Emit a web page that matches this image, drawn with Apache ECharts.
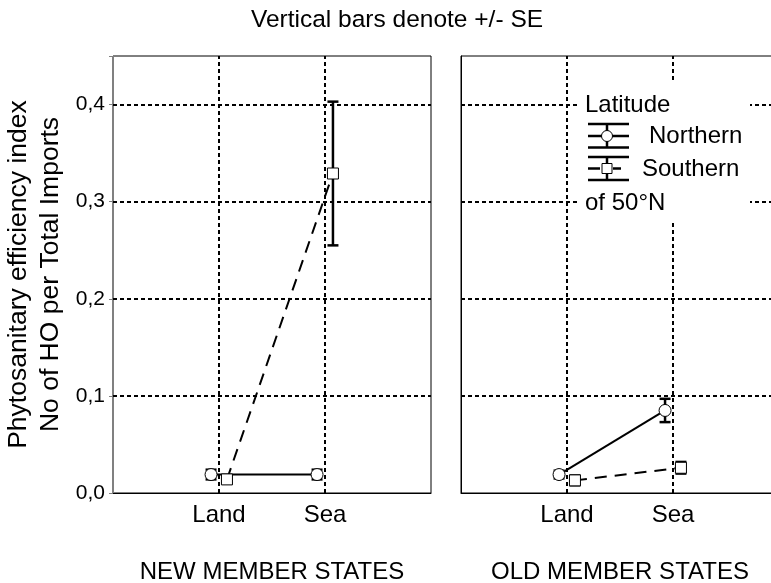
<!DOCTYPE html>
<html>
<head>
<meta charset="utf-8">
<script src="https://cdn.jsdelivr.net/npm/echarts@6/dist/echarts.min.js"></script>
<style>html,body{margin:0;padding:0;background:#fff}#c{width:771px;height:583px}</style>
</head>
<body>
<div id="c"></div>
<script>
// ---- data ----
const categories = ['Land', 'Sea'];
const panelNames = ['NEW MEMBER STATES', 'OLD MEMBER STATES'];
const groupNames = ['Northern', 'Southern'];
const yTicks = [0, 0.1, 0.2, 0.3, 0.4];

const newNorthern = [0.019, 0.019];
const newNorthernSE = [0.005, 0.005];
const newSouthern = [0.014, 0.329];
const newSouthernSE = [0.004, 0.074];

const oldNorthern = [0.019, 0.085];
const oldNorthernSE = [0.004, 0.012];
const oldSouthern = [0.013, 0.026];
const oldSouthernSE = [0.005, 0.006];

const titleText = 'Vertical bars denote +/- SE';
const yName = 'Phytosanitary efficiency index\nNo of HO per Total Imports';
const legendTitle = 'Latitude';
const legendFoot = 'of 50°N';

// ---- chart ----
const FONT = 'Liberation Sans, Arial, sans-serif';
const DODGE = 0.075;
const chart = echarts.init(document.getElementById('c'), null, {renderer: 'canvas'});

const panels = [
  {n: newNorthern, nse: newNorthernSE, s: newSouthern, sse: newSouthernSE},
  {n: oldNorthern, nse: oldNorthernSE, s: oldSouthern, sse: oldSouthernSE}
];

const gridLine = {color: '#000', width: 2, type: [4, 3]};

function errItem(params, api) {
  const x = api.value(0), lo = api.value(1), hi = api.value(2);
  const a = api.coord([x, lo]), b = api.coord([x, hi]);
  const cap = 5.5;
  const st = {stroke: '#000', lineWidth: 2.5};
  return {type: 'group', children: [
    {type: 'line', shape: {x1: a[0], y1: a[1], x2: b[0], y2: b[1]}, style: st},
    {type: 'line', shape: {x1: a[0] - cap, y1: a[1], x2: a[0] + cap, y2: a[1]}, style: st},
    {type: 'line', shape: {x1: b[0] - cap, y1: b[1], x2: b[0] + cap, y2: b[1]}, style: st}
  ]};
}

const grids = [
  {left: 113, top: 56, width: 318, height: 437, show: true, borderColor: '#000', borderWidth: 1,
   backgroundColor: 'transparent', containLabel: false, outerBoundsMode: 'none'},
  {left: 461, top: 56, width: 318, height: 437, show: true, borderColor: '#000', borderWidth: 1,
   backgroundColor: 'transparent', containLabel: false, outerBoundsMode: 'none'}
];

const xAxes = panelNames.map((nm, k) => ({
  type: 'value', gridIndex: k, min: 0, max: 3, interval: 1,
  name: nm, nameLocation: 'middle', nameGap: 67,
  nameTextStyle: {fontFamily: FONT, fontSize: 24, color: '#000'},
  axisLine: {lineStyle: {color: '#000', width: 1}},
  axisTick: {show: false},
  splitLine: {show: false},
  axisLabel: {
    margin: 10, fontFamily: FONT, fontSize: 24, color: '#000',
    formatter: v => categories[Math.round(v) - 1] && Math.abs(v - Math.round(v)) < 1e-6 ? categories[Math.round(v) - 1] : ''
  }
}));

const yAxes = [0, 1].map(k => ({
  type: 'value', gridIndex: k, min: 0, max: 0.45, interval: 0.1,
  name: k === 0 ? yName : '', nameLocation: 'middle', nameGap: 46, nameRotate: 90,
  nameTextStyle: {fontFamily: FONT, fontSize: 26.5, color: '#000', lineHeight: 32},
  axisLine: {show: true, lineStyle: {color: k === 0 ? '#808080' : '#000', width: 1}},
  axisTick: {show: k === 0, length: 4, lineStyle: {color: '#808080'}},
  splitLine: {show: false},
  axisLabel: {
    show: k === 0, margin: 8, fontFamily: FONT, fontSize: 21, color: '#000',
    formatter: v => yTicks.some(t => Math.abs(t - v) < 1e-9) ? v.toFixed(1).replace('.', ',') : ''
  }
}));

const series = [];
panels.forEach((p, k) => {
  series.push({
    type: 'scatter', xAxisIndex: k, yAxisIndex: k, data: [], z: 0, silent: true,
    markLine: {
      silent: true, symbol: 'none', animation: false, label: {show: false},
      lineStyle: gridLine,
      data: categories.map((c, i) => ({xAxis: i + 1}))
        .concat(yTicks.filter(t => t > 0).map(t => ({yAxis: t})))
    }
  });
  const groups = [
    {vals: p.n, se: p.nse, d: -DODGE, sym: 'circle', size: 12, dash: 'solid', name: groupNames[0]},
    {vals: p.s, se: p.sse, d: DODGE, sym: 'rect', size: 11, dash: [12, 8], name: groupNames[1]}
  ];
  groups.forEach(g => {
    series.push({
      type: 'custom', xAxisIndex: k, yAxisIndex: k, z: 3, silent: true,
      renderItem: errItem, encode: {x: 0, y: [1, 2]},
      data: categories.map((c, i) => [i + 1 + g.d, g.vals[i] - g.se[i], g.vals[i] + g.se[i]])
    });
    series.push({
      type: 'line', name: g.name, xAxisIndex: k, yAxisIndex: k, z: 4,
      data: categories.map((c, i) => [i + 1 + g.d, g.vals[i]]),
      symbol: g.sym, symbolSize: g.size, showSymbol: true,
      lineStyle: {color: '#000', width: 2, type: g.dash},
      itemStyle: {color: '#fff', borderColor: '#000', borderWidth: 1},
      animation: false
    });
  });
});

// legend drawn inside right panel
const Z = 100;
const st = {stroke: '#000', lineWidth: 2.5};
const LF = '24px ' + FONT;
const legendElements = [
  {type: 'rect', z: Z, shape: {x: 577, y: 83, width: 173, height: 139}, style: {fill: '#fff'}},
  {type: 'text', z: Z + 1, style: {text: legendTitle, x: 585, y: 105, font: LF, fill: '#000', textVerticalAlign: 'middle'}},
  {type: 'line', z: Z + 1, shape: {x1: 588, y1: 124, x2: 629, y2: 124}, style: st},
  {type: 'line', z: Z + 1, shape: {x1: 588, y1: 136, x2: 629, y2: 136}, style: st},
  {type: 'line', z: Z + 1, shape: {x1: 588, y1: 147.5, x2: 629, y2: 147.5}, style: st},
  {type: 'line', z: Z + 1, shape: {x1: 607, y1: 124, x2: 607, y2: 147.5}, style: st},
  {type: 'circle', z: Z + 2, shape: {cx: 607, cy: 136, r: 5.5}, style: {fill: '#fff', stroke: '#000', lineWidth: 1}},
  {type: 'text', z: Z + 1, style: {text: groupNames[0], x: 649, y: 136, font: LF, fill: '#000', textVerticalAlign: 'middle'}},
  {type: 'line', z: Z + 1, shape: {x1: 588, y1: 157, x2: 629, y2: 157}, style: st},
  {type: 'line', z: Z + 1, shape: {x1: 588, y1: 168.5, x2: 600, y2: 168.5}, style: st},
  {type: 'line', z: Z + 1, shape: {x1: 613, y1: 168.5, x2: 621, y2: 168.5}, style: st},
  {type: 'line', z: Z + 1, shape: {x1: 588, y1: 180, x2: 629, y2: 180}, style: st},
  {type: 'line', z: Z + 1, shape: {x1: 607, y1: 157, x2: 607, y2: 180}, style: st},
  {type: 'rect', z: Z + 2, shape: {x: 602, y: 163.5, width: 10, height: 10}, style: {fill: '#fff', stroke: '#000', lineWidth: 1}},
  {type: 'text', z: Z + 1, style: {text: groupNames[1], x: 642, y: 169, font: LF, fill: '#000', textVerticalAlign: 'middle'}},
  {type: 'text', z: Z + 1, style: {text: legendFoot, x: 585, y: 203, font: LF, fill: '#000', textVerticalAlign: 'middle'}}
];

chart.setOption({
  animation: false,
  backgroundColor: '#fff',
  title: {
    text: titleText, left: 392, top: 3, textAlign: 'center',
    textStyle: {fontFamily: FONT, fontSize: 24.5, fontWeight: 'normal', color: '#000'}
  },
  grid: grids,
  xAxis: xAxes,
  yAxis: yAxes,
  series: series,
  graphic: legendElements
});
</script>
</body>
</html>
